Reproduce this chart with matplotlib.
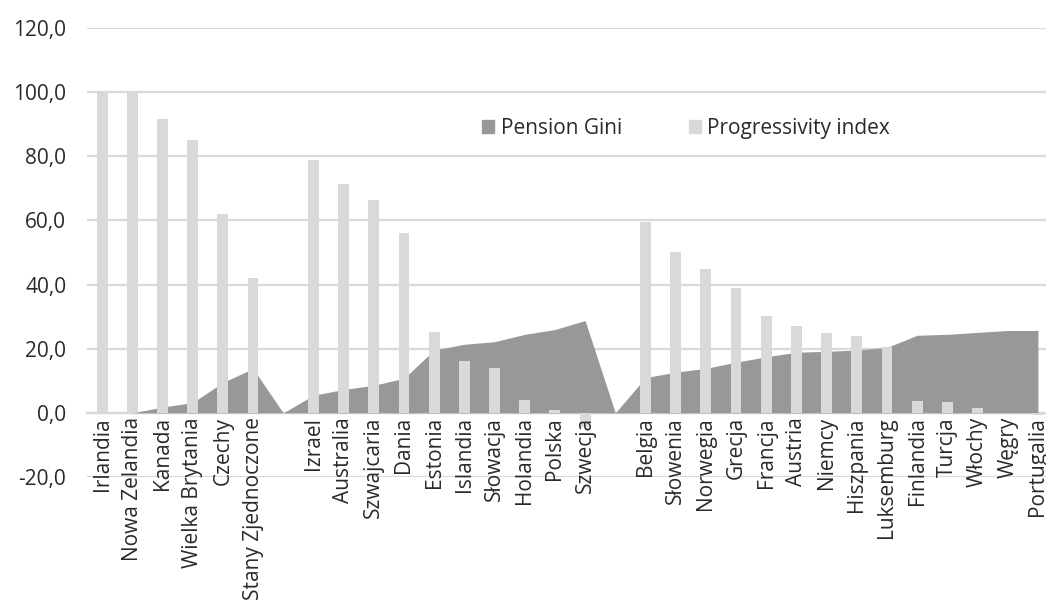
import numpy as np
import matplotlib.pyplot as plt
from matplotlib.patches import Patch

plt.rcParams['font.family'] = ['Open Sans', 'DejaVu Sans']

# categories (empty strings are the gaps between groups)
countries = ['Irlandia', 'Nowa Zelandia', 'Kanada', 'Wielka Brytania', 'Czechy',
             'Stany Zjednoczone', '',
             'Izrael', 'Australia', 'Szwajcaria', 'Dania', 'Estonia', 'Islandia',
             'Słowacja', 'Holandia', 'Polska', 'Szwecja', '',
             'Belgia', 'Słowenia', 'Norwegia', 'Grecja', 'Francja', 'Austria',
             'Niemcy', 'Hiszpania', 'Luksemburg', 'Finlandia', 'Turcja', 'Włochy',
             'Węgry', 'Portugalia']

pension_gini = [0.0, 0.0, 1.8, 3.2, 9.5, 13.8, 0.0,
                5.5, 7.3, 8.6, 10.8, 19.6, 21.4, 22.2, 24.5, 26.0, 28.8, 0.0,
                11.0, 12.7, 13.9, 15.8, 17.5, 18.9, 19.2, 19.6, 20.4,
                24.2, 24.5, 25.1, 25.7, 25.7]

progressivity = [100.0, 100.0, 91.5, 85.2, 62.1, 42.2, np.nan,
                 78.9, 71.3, 66.4, 56.2, 25.1, 16.3, 13.9, 4.0, 0.8, -4.5, np.nan,
                 59.6, 50.2, 45.0, 38.9, 30.2, 27.0, 25.0, 23.9, 20.6,
                 3.8, 3.3, 1.4, 0.0, -0.8]

yticks = [-20, 0, 20, 40, 60, 80, 100, 120]

dark = '#98989a'
light = '#d9d9d9'
txt = '#2a2a2a'

fig = plt.figure(figsize=(10.46, 6.11), dpi=100)
ax = fig.add_axes([0.0832, 0.2193, 0.9235, 0.7347])

for s in ['top', 'right', 'left']:
    ax.spines[s].set_visible(False)
ax.spines['bottom'].set_position(('data', 0))
ax.spines['bottom'].set_color(light)
ax.spines['bottom'].set_linewidth(1.6)
ax.spines['bottom'].set_zorder(1)

# gridlines drawn by hand so the tick labels can sit on top of everything
for v in yticks:
    ax.axhline(v, color=light, linewidth=1.6, zorder=0.5)

x = np.arange(len(countries))
ax.fill_between(x, pension_gini, 0, color=dark, linewidth=0, zorder=2)
ax.bar(x, progressivity, width=0.36, color=light, zorder=3)

ax.set_xlim(-0.5, len(countries) - 0.5)
ax.set_ylim(-20, 120)
ax.set_yticks(yticks)
ax.set_yticklabels([f'{v:.1f}'.replace('.', ',') for v in yticks],
                   fontsize=15, color=txt)

ax.set_xticks(x)
ax.set_xticklabels(countries, rotation=90, fontsize=15, color=txt)
ax.tick_params(axis='both', length=0)
ax.tick_params(axis='y', pad=15)
ax.tick_params(axis='x', pad=3)
ax.xaxis.set_zorder(5)

handles = [Patch(color=dark, label='Pension Gini'),
           Patch(color=light, label='Progressivity index')]
ax.legend(handles=handles, loc='center', bbox_to_anchor=(0.62, 0.777), ncol=2,
          frameon=False, fontsize=15, handlelength=0.6, handleheight=0.6,
          handletextpad=0.3, columnspacing=3.2, labelcolor=txt)

fig.savefig('out.png', dpi=100)
